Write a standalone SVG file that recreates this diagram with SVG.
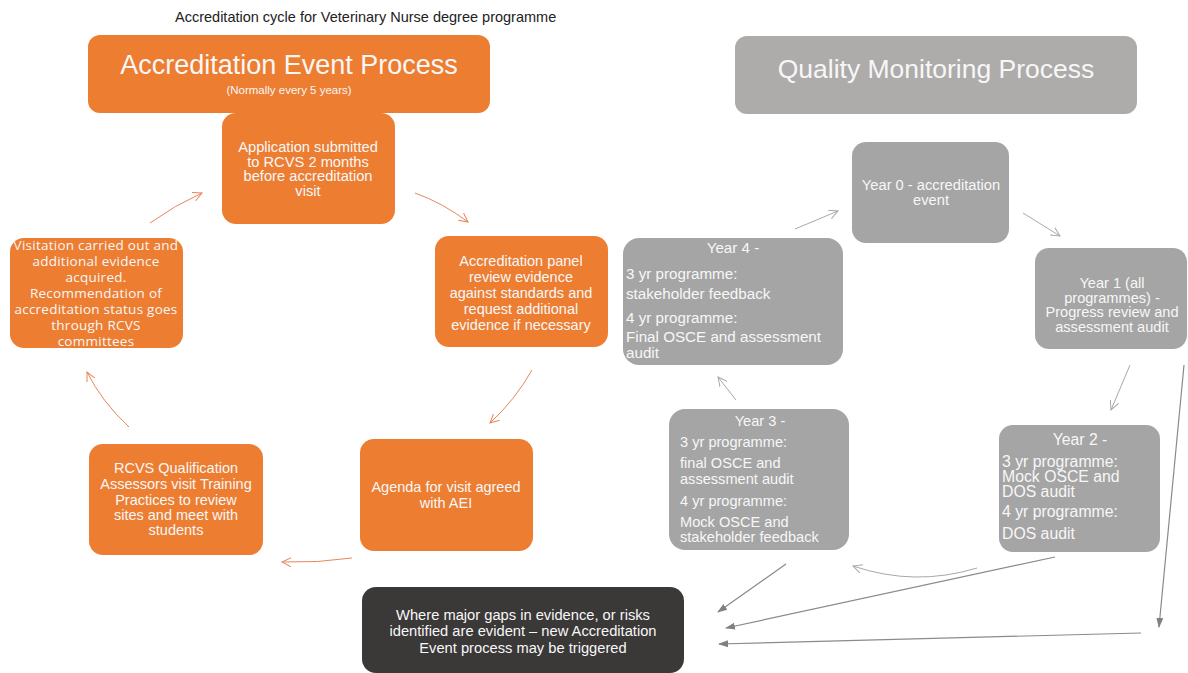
<svg xmlns="http://www.w3.org/2000/svg" width="1188" height="673" viewBox="0 0 1188 673">
<style>
.t{font-family:"Liberation Sans",Arial,sans-serif;fill:#F7F7F7}
.c{text-anchor:middle}
.o{fill:#ED7D31}
.g{fill:#A5A5A5}
.oa{fill:none;stroke:#E8865A;stroke-width:1}
.ga{fill:none;stroke:#A8A8A8;stroke-width:1}
.da{fill:none;stroke:#8A8A8A;stroke-width:1.2}
</style>
<defs>
<marker id="mo" viewBox="0 0 10 10" refX="9" refY="5" markerWidth="10" markerHeight="10" markerUnits="userSpaceOnUse" orient="auto"><path d="M0,0.5 L9,5 L0,9.5" fill="none" stroke="#E8865A" stroke-width="1"/></marker>
<marker id="mg" viewBox="0 0 10 10" refX="9" refY="5" markerWidth="10" markerHeight="10" markerUnits="userSpaceOnUse" orient="auto"><path d="M0,0.5 L9,5 L0,9.5" fill="none" stroke="#A8A8A8" stroke-width="1"/></marker>
<marker id="md" viewBox="0 0 10 10" refX="9" refY="5" markerWidth="10" markerHeight="10" markerUnits="userSpaceOnUse" orient="auto"><path d="M0,1.5 L10,5 L0,8.5 Z" fill="#808080"/></marker>
</defs>
<rect width="1188" height="673" fill="#FFFFFF"/>
<text x="175" y="22" font-family="Liberation Sans, Arial, sans-serif" font-size="14.5" fill="#222222">Accreditation cycle for Veterinary Nurse degree programme</text>

<g id="hdr-accreditation">
<rect x="88" y="35" width="402" height="78" rx="12" class="o"/>
<text x="289" y="74" class="t c" font-size="27">Accreditation Event Process</text>
<text x="289" y="94" class="t c" font-size="11.5">(Normally every 5 years)</text>
</g>
<g id="hdr-quality">
<rect x="735" y="36" width="402" height="78" rx="12" fill="#AEABAB"/>
<text x="936" y="78" class="t c" font-size="26.5">Quality Monitoring Process</text>
</g>

<g id="n-application">
<rect x="222" y="113" width="173" height="111" rx="14" class="o"/>
<text class="t c" font-size="14.7"><tspan x="308" y="152">Application submitted</tspan><tspan x="308" y="166.5">to RCVS 2 months</tspan><tspan x="308" y="181">before accreditation</tspan><tspan x="308" y="195.5">visit</tspan></text>
</g>
<g id="n-panel">
<rect x="435" y="236" width="173" height="111" rx="14" class="o"/>
<text class="t c" font-size="14.5"><tspan x="521" y="266">Accreditation panel</tspan><tspan x="521" y="282">review evidence</tspan><tspan x="521" y="298">against standards and</tspan><tspan x="521" y="314">request additional</tspan><tspan x="521" y="330">evidence if necessary</tspan></text>
</g>
<g id="n-agenda">
<rect x="360" y="439" width="173" height="112" rx="14" class="o"/>
<text class="t c" font-size="14.5"><tspan x="446" y="492">Agenda for visit agreed</tspan><tspan x="446" y="508">with AEI</tspan></text>
</g>
<g id="n-rcvs">
<rect x="89" y="444" width="174" height="111" rx="14" class="o"/>
<text class="t c" font-size="14.5"><tspan x="176" y="473">RCVS Qualification</tspan><tspan x="176" y="489">Assessors visit Training</tspan><tspan x="176" y="505">Practices to review</tspan><tspan x="176" y="520">sites and meet with</tspan><tspan x="176" y="535">students</tspan></text>
</g>
<g id="n-visitation">
<rect x="10" y="238" width="173" height="110" rx="14" class="o"/>
<text class="c" font-family="Open Sans, sans-serif" font-size="13.5" letter-spacing="0.25" fill="#F7F7F7"><tspan x="96" y="249.5">Visitation carried out and</tspan><tspan x="96" y="265.5">additional evidence</tspan><tspan x="96" y="281.5">acquired.</tspan><tspan x="96" y="297.5">Recommendation of</tspan><tspan x="96" y="313.5">accreditation status goes</tspan><tspan x="96" y="329.5">through RCVS</tspan><tspan x="96" y="345.5">committees</tspan></text>
</g>

<g id="n-year0">
<rect x="852" y="142" width="157" height="101" rx="14" class="g"/>
<text class="t c" font-size="14.7"><tspan x="931" y="190">Year 0 - accreditation</tspan><tspan x="931" y="205">event</tspan></text>
</g>
<g id="n-year1">
<rect x="1035" y="248" width="152" height="101" rx="14" class="g"/>
<text class="t c" font-size="14.6"><tspan x="1112" y="288">Year 1 (all</tspan><tspan x="1112" y="302.5">programmes) -</tspan><tspan x="1112" y="317">Progress review and</tspan><tspan x="1112" y="331.5">assessment audit</tspan></text>
</g>
<g id="n-year2">
<rect x="999" y="425" width="161" height="127" rx="14" class="g"/>
<text class="t" font-size="15.8"><tspan x="1080" y="445" text-anchor="middle">Year 2 -</tspan><tspan x="1002" y="467">3 yr programme:</tspan><tspan x="1002" y="482">Mock OSCE and</tspan><tspan x="1002" y="497">DOS audit</tspan><tspan x="1002" y="517">4 yr programme:</tspan><tspan x="1002" y="539">DOS audit</tspan></text>
</g>
<g id="n-year3">
<rect x="669" y="409" width="180" height="141" rx="16" class="g"/>
<text class="t" font-size="14.6"><tspan x="760" y="426" text-anchor="middle">Year 3 -</tspan><tspan x="680" y="447">3 yr programme:</tspan><tspan x="680" y="468">final OSCE and</tspan><tspan x="680" y="484">assessment audit</tspan><tspan x="680" y="506">4 yr programme:</tspan><tspan x="680" y="527">Mock OSCE and</tspan><tspan x="680" y="542">stakeholder feedback</tspan></text>
</g>
<g id="n-year4">
<rect x="623" y="238" width="220" height="127" rx="16" class="g"/>
<text class="t" font-size="15.2"><tspan x="733" y="253" text-anchor="middle">Year 4 -</tspan><tspan x="626" y="279">3 yr programme:</tspan><tspan x="626" y="299">stakeholder feedback</tspan><tspan x="626" y="323">4 yr programme:</tspan><tspan x="626" y="342">Final OSCE and assessment</tspan><tspan x="626" y="357.5">audit</tspan></text>
</g>
<g id="n-trigger">
<rect x="362" y="587" width="322" height="86" rx="14" fill="#3B3838"/>
<text class="t c" font-size="14.7"><tspan x="523" y="620">Where major gaps in evidence, or risks</tspan><tspan x="523" y="636">identified are evident – new Accreditation</tspan><tspan x="523" y="653">Event process may be triggered</tspan></text>
</g>

<g id="connectors">
<path class="oa" d="M150,223 Q175,205 202,193" marker-end="url(#mo)"/>
<path class="oa" d="M415,193 Q443,203 468,222" marker-end="url(#mo)"/>
<path class="oa" d="M532,370 Q515,400 490,423" marker-end="url(#mo)"/>
<path class="oa" d="M352,558 Q318,563 282,562" marker-end="url(#mo)"/>
<path class="oa" d="M129,427 Q102,402 87,372" marker-end="url(#mo)"/>
<path class="ga" d="M795,229 L838,211" marker-end="url(#mg)"/>
<path class="ga" d="M1023,213 L1060,236" marker-end="url(#mg)"/>
<path class="ga" d="M1130,365 L1111,410" marker-end="url(#mg)"/>
<path class="ga" d="M977,568 Q915,587 853,566" marker-end="url(#mg)"/>
<path class="ga" d="M736,400 L718,377" marker-end="url(#mg)"/>
<path class="da" d="M786,564 L718,612" marker-end="url(#md)"/>
<path class="da" d="M1055,557 L726,628" marker-end="url(#md)"/>
<path class="da" d="M1184,365 L1159,627" marker-end="url(#md)"/>
<path class="da" d="M1141,633 L719,644" marker-end="url(#md)"/>
</g>
</svg>
